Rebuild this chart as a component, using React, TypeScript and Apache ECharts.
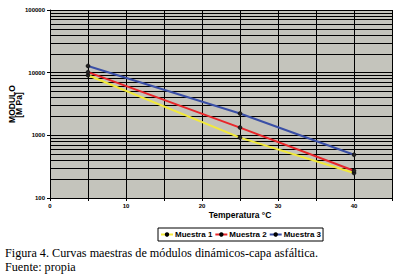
import React, { useEffect, useRef } from "react";
import * as echarts from "echarts";

const temperatures = [5, 25, 40];
const muestra1 = [9100, 920, 250];
const muestra2 = [10200, 1330, 272];
const muestra3 = [12800, 2230, 490];
const seriesNames = ["Muestra 1", "Muestra 2", "Muestra 3"];
const seriesColors = ["#F2EA3A", "#E8262A", "#3A4FA6"];
const xTickLabels = [0, 10, 20, 30, 40];
const decades = [100, 1000, 10000];

const minorGridValues: number[] = [];
decades.forEach((d) => {
  for (let k = 2; k <= 9; k++) minorGridValues.push(d * k);
});

const SANS = "'Liberation Sans', Arial, sans-serif";
const SERIF = "'Liberation Serif', 'Times New Roman', serif";

export default function App() {
  const ref = useRef<HTMLDivElement>(null);
  useEffect(() => {
    if (!ref.current) return;
    const chart = echarts.init(ref.current, null, { renderer: "svg" });
    const dataSets = [muestra1, muestra2, muestra3];
    const series: any[] = dataSets.map((vals, i) => ({
      name: seriesNames[i],
      type: "line",
      data: temperatures.map((t, j) => [t, vals[j]]),
      symbol: "circle",
      symbolSize: 4,
      itemStyle: { color: "#222", borderColor: "#000", borderWidth: 0.5 },
      lineStyle: { color: seriesColors[i], width: 2 },
      z: 5 + i,
    }));
    series.push({
      name: "grid-minor",
      type: "line",
      data: [],
      silent: true,
      z: 1,
      markLine: {
        silent: true,
        symbol: ["none", "none"],
        label: { show: false },
        lineStyle: { color: "#000", width: 1, type: "solid" },
        emphasis: { disabled: true },
        data: minorGridValues.map((v) => ({ yAxis: v })),
      },
    });
    chart.setOption({
      animation: false,
      backgroundColor: "#fff",
      grid: { left: 50, top: 10, right: 12, bottom: 76, show: true, backgroundColor: "#C4C4BC", borderWidth: 0 },
      xAxis: {
        type: "value",
        min: 0,
        max: 45,
        interval: 5,
        axisLine: { show: true, lineStyle: { color: "#000", width: 1 } },
        axisTick: { show: true, length: 3, lineStyle: { color: "#000" } },
        splitLine: { show: true, lineStyle: { color: "#000", width: 1 } },
        axisLabel: {
          fontFamily: SANS,
          fontSize: 6,
          fontWeight: "bold",
          color: "#000",
          margin: 5,
          formatter: (v: number) => (xTickLabels.includes(v) ? String(v) : ""),
        },
      },
      yAxis: {
        type: "log",
        logBase: 10,
        min: 100,
        max: 100000,
        axisLine: { show: true, lineStyle: { color: "#000", width: 1 } },
        axisTick: { show: true, length: 3, lineStyle: { color: "#000" } },
        splitLine: { show: true, lineStyle: { color: "#000", width: 1 } },
        axisLabel: {
          fontFamily: SANS,
          fontSize: 6,
          fontWeight: "bold",
          color: "#000",
          margin: 5,
          formatter: (v: number) => String(Math.round(v)),
        },
      },
      legend: {
        data: seriesNames,
        left: 158,
        top: 228,
        orient: "horizontal",
        itemWidth: 12,
        itemHeight: 3,
        itemGap: 2,
        padding: [2, 2, 2, 2],
        borderColor: "#000",
        borderWidth: 1,
        borderRadius: 0,
        textStyle: { fontFamily: SANS, fontSize: 8, fontWeight: "bold", color: "#000", padding: [0, 0, 0, -3], lineHeight: 9 },
      },
      graphic: [
        {
          type: "text",
          x: 12,
          y: 104,
          rotation: Math.PI / 2,
          style: { text: "MODULO", fontFamily: SANS, fontSize: 8.5, fontWeight: "bold", fill: "#000", align: "center", verticalAlign: "middle" },
        },
        {
          type: "text",
          x: 19,
          y: 105,
          rotation: Math.PI / 2,
          style: { text: "[M Pa]", fontFamily: SANS, fontSize: 8.5, fontWeight: "bold", fill: "#000", align: "center", verticalAlign: "middle" },
        },
        {
          type: "text",
          x: 240,
          y: 215,
          style: { text: "Temperatura °C", fontFamily: SANS, fontSize: 8.5, fontWeight: "bold", fill: "#000", align: "center", verticalAlign: "middle" },
        },
        {
          type: "text",
          x: 5,
          y: 253,
          style: { text: "Figura 4. Curvas maestras de módulos dinámicos-capa asfáltica.", fontFamily: SERIF, fontSize: 12.2, fill: "#000", align: "left", verticalAlign: "middle" },
        },
        {
          type: "text",
          x: 5,
          y: 267,
          style: { text: "Fuente: propia", fontFamily: SERIF, fontSize: 12.2, fill: "#000", align: "left", verticalAlign: "middle" },
        },
      ],
      series,
    });
    return () => chart.dispose();
  }, []);
  return <div ref={ref} style={{ position: "absolute", left: 0, top: 0, width: 404, height: 274 }} />;
}
